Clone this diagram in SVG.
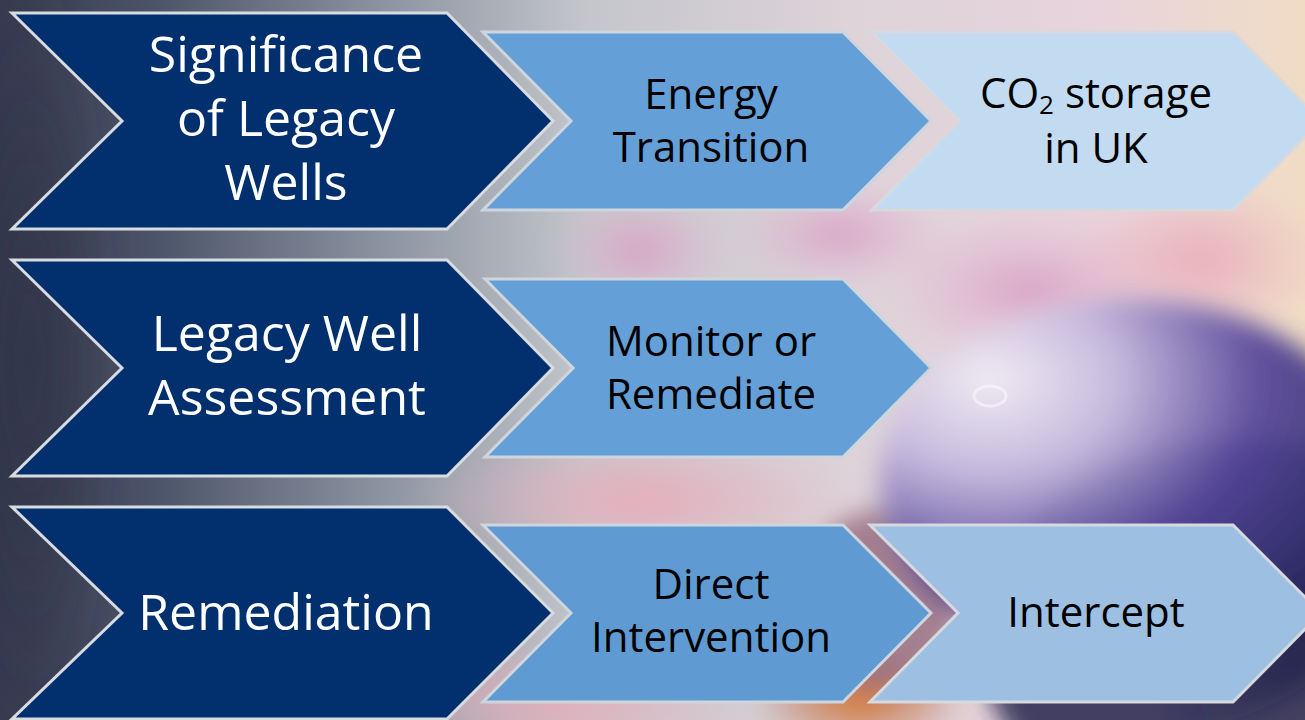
<svg xmlns="http://www.w3.org/2000/svg" width="1305" height="720" viewBox="0 0 1305 720">
  <defs>
    <linearGradient id="bgH" x1="0" y1="0" x2="1" y2="0">
      <stop offset="0" stop-color="#363a50"/>
      <stop offset="0.12" stop-color="#4c5469"/>
      <stop offset="0.3" stop-color="#8e96a3"/>
      <stop offset="0.45" stop-color="#c4c6cb"/>
      <stop offset="0.65" stop-color="#ddd3d9"/>
      <stop offset="0.85" stop-color="#e9d4dc"/>
      <stop offset="1" stop-color="#f0dcc4"/>
    </linearGradient>
    <radialGradient id="darkBR" cx="1" cy="0.85" r="0.45">
      <stop offset="0" stop-color="#25264c" stop-opacity="1"/>
      <stop offset="0.5" stop-color="#3a3570" stop-opacity="0.9"/>
      <stop offset="1" stop-color="#4a3c8a" stop-opacity="0"/>
    </radialGradient>
    <radialGradient id="sphere" cx="0.22" cy="0.22" r="0.9">
      <stop offset="0" stop-color="#f2eef5"/>
      <stop offset="0.28" stop-color="#c4b9de"/>
      <stop offset="0.6" stop-color="#54459a"/>
      <stop offset="1" stop-color="#25255a"/>
    </radialGradient>
    <radialGradient id="pink" cx="0.5" cy="0.5" r="0.5">
      <stop offset="0" stop-color="#d79ec4" stop-opacity="0.9"/>
      <stop offset="1" stop-color="#e6b8cf" stop-opacity="0"/>
    </radialGradient>
    <radialGradient id="salmon" cx="0.5" cy="0.5" r="0.5">
      <stop offset="0" stop-color="#eaa9b8" stop-opacity="0.9"/>
      <stop offset="1" stop-color="#e9b5c2" stop-opacity="0"/>
    </radialGradient>
    <radialGradient id="orange" cx="0.5" cy="0.5" r="0.5">
      <stop offset="0" stop-color="#d9782a" stop-opacity="1"/>
      <stop offset="1" stop-color="#b05a40" stop-opacity="0"/>
    </radialGradient>
    <radialGradient id="slate" cx="0.5" cy="0.5" r="0.5">
      <stop offset="0" stop-color="#2f3347" stop-opacity="0.8"/>
      <stop offset="1" stop-color="#2f3347" stop-opacity="0"/>
    </radialGradient>
    <filter id="blur" x="-20%" y="-20%" width="140%" height="140%">
      <feGaussianBlur stdDeviation="12"/>
    </filter>
    <style>
      .big { fill: #022f6d; stroke: #d8dbe0; stroke-width: 3; stroke-linejoin: miter; }
      .mid { fill: #64a0d7; stroke: #cfd5dc; stroke-width: 3; stroke-linejoin: miter; }
      .lite { fill: #c3dbf0; stroke: #d6dade; stroke-width: 3; stroke-linejoin: miter; }
      .tw { font-family: "Open Sans", "Liberation Sans", sans-serif; font-size: 50px; fill: #ffffff; text-anchor: middle; }
      .tb { font-family: "Open Sans", "Liberation Sans", sans-serif; font-size: 42px; fill: #000000; text-anchor: middle; }
    </style>
  </defs>

  <g id="background">
    <rect x="0" y="0" width="1305" height="720" fill="url(#bgH)"/>
    <g filter="url(#blur)">
      <ellipse cx="30" cy="360" rx="90" ry="420" fill="url(#slate)"/>
      <ellipse cx="640" cy="250" rx="90" ry="60" fill="url(#pink)"/>
      <ellipse cx="840" cy="235" rx="110" ry="55" fill="url(#pink)"/>
      <ellipse cx="1030" cy="290" rx="150" ry="80" fill="url(#pink)"/>
      <ellipse cx="1200" cy="260" rx="130" ry="80" fill="url(#salmon)"/>
      <ellipse cx="640" cy="500" rx="230" ry="70" fill="url(#salmon)"/>
      <ellipse cx="560" cy="700" rx="200" ry="60" fill="url(#salmon)"/>
      <ellipse cx="1110" cy="480" rx="320" ry="260" fill="url(#darkBR)"/>
      <ellipse cx="1240" cy="640" rx="260" ry="200" fill="#25264c" opacity="0.85"/>
      <ellipse cx="860" cy="700" rx="110" ry="50" fill="url(#orange)"/>
      <ellipse cx="880" cy="600" rx="80" ry="90" fill="#8a5c70" opacity="0.7"/>
    </g>
    <ellipse cx="1130" cy="480" rx="250" ry="180" fill="url(#sphere)" filter="url(#blur)" opacity="0.92"/>
    <ellipse cx="990" cy="396" rx="16" ry="10" fill="none" stroke="#f4f2f8" stroke-width="3" opacity="0.8"/>
  </g>

  <g id="connectors"/>

  <g id="row1-big">
    <path class="big" d="M12,13 L447,13 L553,121 L447,229 L12,229 L122,121 Z"/>
    <text class="tw" x="286" y="72">Significance</text>
    <text class="tw" x="286" y="136">of Legacy</text>
    <text class="tw" x="286" y="200">Wells</text>
  </g>
  <g id="row1-energy">
    <path class="mid" d="M483,32 L843,32 L931,121 L843,210 L483,210 L571,121 Z"/>
    <text class="tb" x="711" y="109">Energy</text>
    <text class="tb" x="711" y="162">Transition</text>
  </g>
  <g id="row1-co2">
    <path class="lite" d="M872,32 L1233,32 L1321,121 L1233,210 L872,210 L960,121 Z"/>
    <text class="tb" x="1096" y="108">CO<tspan font-size="26" dy="6">2</tspan><tspan dy="-6"> storage</tspan></text>
    <text class="tb" x="1096" y="163">in UK</text>
  </g>

  <g id="row2-big">
    <path class="big" d="M12,260 L447,260 L553,368 L447,476 L12,476 L122,368 Z"/>
    <text class="tw" x="287" y="351">Legacy Well</text>
    <text class="tw" x="287" y="415">Assessment</text>
  </g>
  <g id="row2-monitor">
    <path class="mid" d="M485,279 L843,279 L931,368 L843,457 L485,457 L573,368 Z"/>
    <text class="tb" x="711" y="356">Monitor or</text>
    <text class="tb" x="711" y="409">Remediate</text>
  </g>

  <g id="row3-big">
    <path class="big" d="M12,507 L447,507 L553,613 L447,719 L12,719 L122,613 Z"/>
    <text class="tw" x="286" y="630">Remediation</text>
  </g>
  <g id="row3-direct">
    <path class="mid" d="M483,525 L843,525 L931,613 L843,702 L483,702 L571,613 Z" style="fill:#5f9bd2"/>
    <text class="tb" x="711" y="599">Direct</text>
    <text class="tb" x="711" y="652">Intervention</text>
  </g>
  <g id="row3-intercept">
    <path class="lite" d="M870,525 L1233,525 L1321,613 L1233,702 L870,702 L958,613 Z" style="fill:#9dbfe2"/>
    <text class="tb" x="1096" y="627">Intercept</text>
  </g>
</svg>
